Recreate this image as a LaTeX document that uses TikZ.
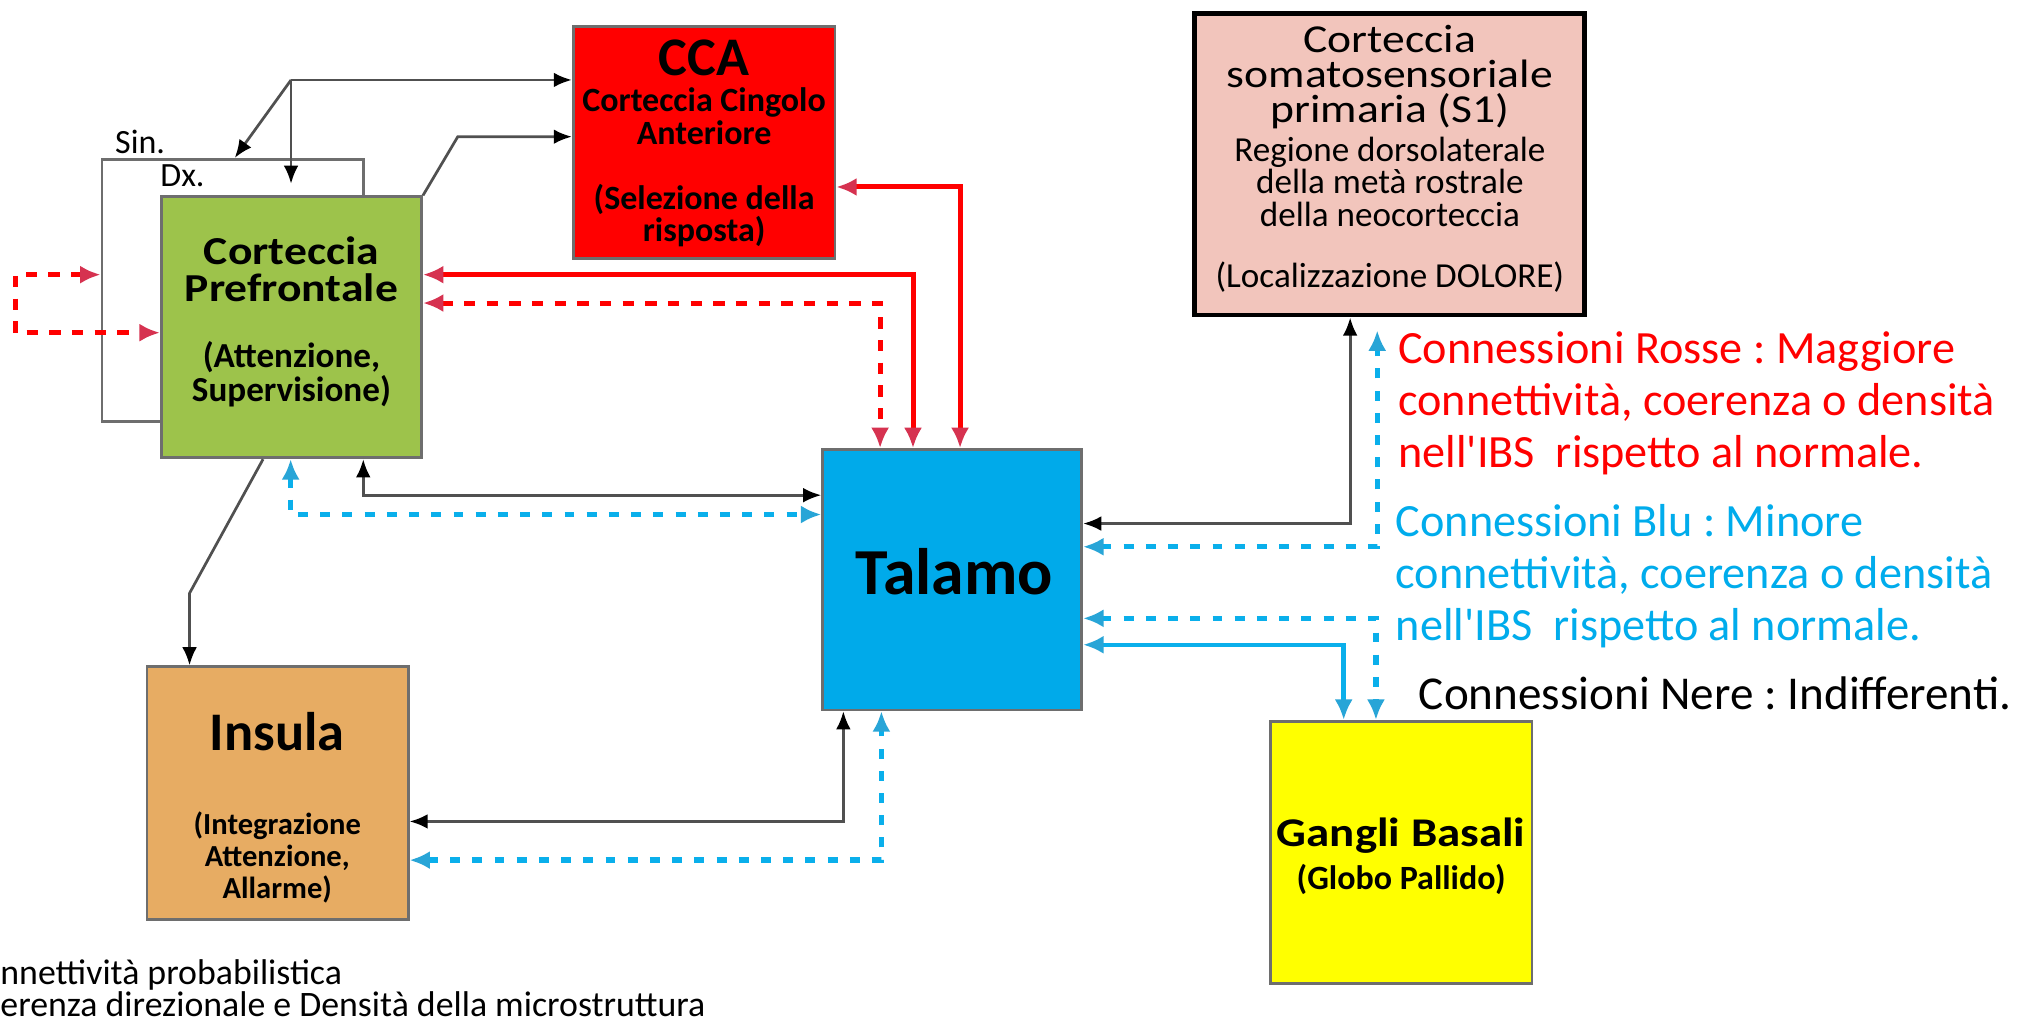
\documentclass[tikz,border=0pt]{standalone}
\usepackage{fontspec}
\setmainfont{Carlito}
\newfontfamily\widefont{Carlito}[FakeStretch=1.15]
\usetikzlibrary{arrows.meta,positioning}
\frenchspacing

\definecolor{boxgray}{RGB}{110,110,110}
\definecolor{linkgray}{RGB}{80,80,80}
\definecolor{pfcgreen}{RGB}{157,195,75}
\definecolor{ccared}{RGB}{255,0,0}
\definecolor{sonepink}{RGB}{242,197,188}
\definecolor{talblue}{RGB}{0,170,234}
\definecolor{insorange}{RGB}{231,172,99}
\definecolor{gbyellow}{RGB}{255,255,0}
\definecolor{linkred}{RGB}{255,0,0}
\definecolor{tipred}{RGB}{214,50,80}
\definecolor{linkblue}{RGB}{10,175,235}
\definecolor{tipblue}{RGB}{40,165,215}
\definecolor{legblue}{RGB}{0,172,236}

\begin{document}
\begin{tikzpicture}[x=0.02cm, y=-0.02cm,
  my box/.style={draw=boxgray, line width=1.2pt, inner sep=0pt},
  btxt/.style 2 args={font=\bfseries\fontsize{#1}{#2}\selectfont, align=center, inner sep=0pt},
  rtxt/.style 2 args={font=\fontsize{#1}{#2}\selectfont, align=center, inner sep=0pt},
  wtxt/.style 2 args={font=\widefont\fontsize{#1}{#2}\selectfont, align=center, inner sep=0pt},
  wbtxt/.style 2 args={font=\widefont\bfseries\fontsize{#1}{#2}\selectfont, align=center, inner sep=0pt},
  black link/.style={draw=linkgray, line width=1.2pt,
    >={Latex[length=8pt,width=6.5pt,color=black]}},
  red link/.style={draw=linkred, line width=2.2pt,
    >={Latex[length=9pt,width=8pt,color=tipred]}},
  red dash/.style={red link, dash pattern=on 5pt off 5pt},
  blue link/.style={draw=linkblue, line width=2pt,
    >={Latex[length=9pt,width=8pt,color=tipblue]}},
  blue dash/.style={blue link, line width=2.4pt, dash pattern=on 4.4pt off 5.4pt},
  ]
  \path[use as bounding box, fill=white] (0,0) rectangle (1568,794);

  % boxes
  \node[my box, minimum width=4.06cm, minimum height=4.07cm] (sin) at (180.5,225.3) {};
  \node[my box, fill=pfcgreen, minimum width=4.04cm, minimum height=4.05cm] (pfc) at (226,253.8) {};
  \node[my box, fill=ccared, minimum width=4.06cm, minimum height=3.59cm] (cca) at (546,110.5) {};
  \node[my box, draw=black, line width=2.2pt, fill=sonepink, minimum width=6.05cm, minimum height=4.68cm] (s1) at (1077.8,127.3) {};
  \node[my box, fill=talblue, minimum width=4.02cm, minimum height=4.04cm] (tal) at (738.4,449.5) {};
  \node[my box, fill=insorange, minimum width=4.05cm, minimum height=3.92cm] (ins) at (215.3,615) {};
  \node[my box, fill=gbyellow, minimum width=4.06cm, minimum height=4.07cm] (gb) at (1086.5,661) {};

  % texts in the boxes
  \node[wbtxt={17.5}{16.5}] (pfc-name) at (226,209) {Corteccia\\Prefrontale};
  \node[btxt={15.5}{15}] (pfc-role) at (226,290) {(Attenzione,\\Supervisione)};
  \node[btxt={24}{24}] (cca-name) at (546,45) {CCA};
  \node[btxt={15}{14.8}] (cca-full) at (546,90) {Corteccia Cingolo\\Anteriore};
  \node[btxt={15}{14}] (cca-role) at (546,167) {(Selezione della\\risposta)};
  \node[wtxt={17.5}{15.5}] (s1-name) at (1077.8,60) {Corteccia\\somatosensoriale\\primaria (S1)};
  \node[rtxt={15.5}{14.2}] (s1-area) at (1077.8,141) {Regione dorsolaterale\\della metà rostrale\\della neocorteccia};
  \node[rtxt={15.5}{15.5}] (s1-role) at (1077.8,215) {(Localizzazione DOLORE)};
  \node[btxt={29}{29}] (tal-name) at (740,443) {Talamo};
  \node[btxt={24}{24}] (ins-name) at (215,567) {Insula};
  \node[btxt={13.5}{14.2}] (ins-role) at (215,665) {(Integrazione\\Attenzione,\\Allarme)};
  \node[wbtxt={18}{18}] (gb-name) at (1086.5,648) {Gangli Basali};
  \node[btxt={15}{15}] (gb-role) at (1086.5,682) {(Globo Pallido)};
  \node[rtxt={15}{15}, anchor=base west] (sin-lbl) at (89,119) {Sin.};
  \node[rtxt={15}{15}, anchor=base west] (dx-lbl) at (124,145) {Dx.};

  % legend
  \node[rtxt={20.4}{23}, align=left, anchor=west, text=linkred] (leg-red) at (1084,313)
    {Connessioni Rosse : Maggiore\\connettività, coerenza o densità\\nell\textquotesingle IBS\ \ rispetto al normale.};
  \node[rtxt={20.4}{23}, align=left, anchor=west, text=legblue] (leg-blue) at (1082,447)
    {Connessioni Blu : Minore\\connettività, coerenza o densità\\nell\textquotesingle IBS\ \ rispetto al normale.};
  \node[rtxt={20.8}{20.8}, anchor=west] (leg-black) at (1100,538) {Connessioni Nere : Indifferenti.};
  \node[rtxt={15.8}{14.2}, align=left, anchor=west] (foot) at (0,766)
    {nnettività probabilistica\\erenza direzionale e Densità della microstruttura};

  % black connections
  \coordinate (fork) at (225.7,62);
  \draw[black link, ->] (fork) -- (cca.west |- fork);
  \draw[black link, ->] (fork) -- (sin.north -| 182,0);
  \draw[black link, ->, shorten >=0.18cm] (fork) -- (pfc.north -| fork);
  \draw[black link, ->] (pfc.north east) -- (355,106) -- (cca.west |- 0,106);
  \draw[black link, ->] (pfc.south -| 204,0) -- (147,460) -- (ins.north -| 147,0);
  \draw[black link, <->] (pfc.south -| 281.7,0) |- (tal.west |- 0,384);
  \draw[black link, <->] (ins.east |- 0,637) -| (tal.south -| 654,0);
  \draw[black link, <->] (tal.east |- 0,406) -| (s1.south -| 1047,0);

  % red connections
  \draw[red dash, <->] (sin.west |- 0,213) -| (12,258) -- (pfc.west |- 0,258);
  \draw[red link, <->] (pfc.east |- 0,213) -| (tal.north -| 708,0);
  \draw[red dash, <->] (pfc.east |- 0,235) -| (tal.north -| 682.5,0);
  \draw[red link, <->] (cca.east |- 0,145) -| (tal.north -| 744.5,0);

  % blue connections
  \draw[blue dash, <->] (pfc.south -| 225.4,0) |- (tal.west |- 0,399);
  \draw[blue dash, <->] (ins.east |- 0,667) -| (tal.south -| 683.5,0);
  \draw[blue dash, <->, shorten >=0.2cm] (tal.east |- 0,424) -| (s1.south -| 1068,0);
  \draw[blue dash, <->] (tal.east |- 0,479.5) -| (gb.north -| 1067,0);
  \draw[blue link, <->] (tal.east |- 0,500) -| (gb.north -| 1042,0);
\end{tikzpicture}
\end{document}
